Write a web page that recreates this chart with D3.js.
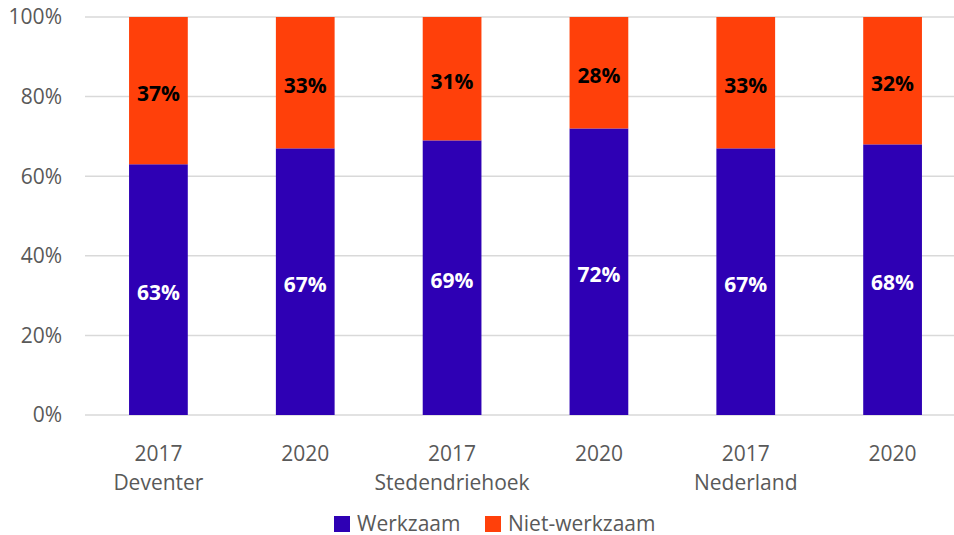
<!DOCTYPE html>
<html>
<head>
<meta charset="utf-8">
<script src="https://cdn.jsdelivr.net/npm/d3@7"></script>
<style>
  body { margin: 0; background: #fff; }
  text { font-family: "Open Sans", sans-serif; }
</style>
</head>
<body>
<svg width="954" height="535"></svg>
<script>
// data
var years = ["2017", "2020", "2017", "2020", "2017", "2020"];
var regions = ["Deventer", "", "Stedendriehoek", "", "Nederland", ""];
var werkzaam = [63, 67, 69, 72, 67, 68];
var nietWerkzaam = [37, 33, 31, 28, 33, 32];
var yTicks = [0, 20, 40, 60, 80, 100];
var seriesNames = ["Werkzaam", "Niet-werkzaam"];
var colors = ["#2e00b4", "#ff400a"];

var svg = d3.select("svg");
var plotLeft = 85, plotRight = 966, plotTop = 17, plotBottom = 415;
var fontSize = "21px";

var ids = years.map(function (d, i) { return i; });

var x = d3.scaleBand()
  .domain(ids)
  .range([plotLeft, plotRight])
  .paddingInner(0.6)
  .paddingOuter(0.3);

var y = d3.scaleLinear().domain([0, 100]).range([plotBottom, plotTop]);

// gridlines
svg.append("g")
  .selectAll("line")
  .data(yTicks)
  .enter()
  .append("line")
  .attr("x1", plotLeft)
  .attr("x2", 954)
  .attr("y1", function (d) { return y(d); })
  .attr("y2", function (d) { return y(d); })
  .attr("stroke", "#d9d9d9")
  .attr("stroke-width", 1.5);

// y axis labels
svg.append("g")
  .selectAll("text")
  .data(yTicks)
  .enter()
  .append("text")
  .attr("x", 62)
  .attr("y", function (d) { return y(d); })
  .attr("dy", "0.35em")
  .attr("text-anchor", "end")
  .attr("font-size", fontSize)
  .attr("fill", "#595959")
  .text(function (d) { return d + "%"; });

// stacked bars
var rows = ids.map(function (i) {
  return { id: i, Werkzaam: werkzaam[i], "Niet-werkzaam": nietWerkzaam[i] };
});
var stacked = d3.stack().keys(seriesNames)(rows);

var layers = svg.append("g")
  .selectAll("g")
  .data(stacked)
  .enter()
  .append("g")
  .attr("fill", function (d, i) { return colors[i]; });

layers.selectAll("rect")
  .data(function (d) { return d; })
  .enter()
  .append("rect")
  .attr("x", function (d) { return x(d.data.id); })
  .attr("width", x.bandwidth())
  .attr("y", function (d) { return y(d[1]); })
  .attr("height", function (d) { return y(d[0]) - y(d[1]); });

// value labels
stacked.forEach(function (layer, li) {
  svg.append("g")
    .selectAll("text")
    .data(layer)
    .enter()
    .append("text")
    .attr("x", function (d) { return x(d.data.id) + x.bandwidth() / 2; })
    .attr("y", function (d) { return (y(d[0]) + y(d[1])) / 2 + 3; })
    .attr("dy", "0.35em")
    .attr("text-anchor", "middle")
    .attr("font-size", fontSize)
    .attr("font-weight", "bold")
    .attr("fill", li === 0 ? "#ffffff" : "#000000")
    .text(function (d) { return (d[1] - d[0]) + "%"; });
});

// x labels
var xl = svg.append("g")
  .selectAll("text")
  .data(ids)
  .enter()
  .append("text")
  .attr("text-anchor", "middle")
  .attr("font-size", fontSize)
  .attr("fill", "#595959");

xl.append("tspan")
  .attr("x", function (d) { return x(d) + x.bandwidth() / 2; })
  .attr("y", 461)
  .text(function (d) { return years[d]; });

xl.append("tspan")
  .attr("x", function (d) { return x(d) + x.bandwidth() / 2; })
  .attr("y", 490)
  .text(function (d) { return regions[d]; });

// legend
var legendX = [334, 485];
var legend = svg.append("g")
  .selectAll("g")
  .data(seriesNames)
  .enter()
  .append("g")
  .attr("transform", function (d, i) { return "translate(" + legendX[i] + ",516)"; });

legend.append("rect")
  .attr("width", 16)
  .attr("height", 16)
  .attr("fill", function (d, i) { return colors[i]; });

legend.append("text")
  .attr("x", 23)
  .attr("y", 8)
  .attr("dy", "0.33em")
  .attr("font-size", fontSize)
  .attr("fill", "#595959")
  .text(function (d) { return d; });
</script>
</body>
</html>
